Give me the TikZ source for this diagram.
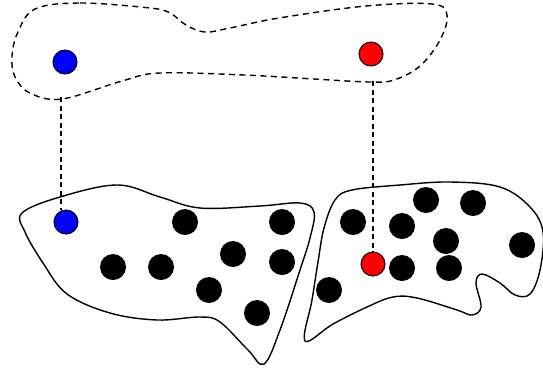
\documentclass[tikz,border=0pt]{standalone}
\begin{document}
\begin{tikzpicture}[x=1pt,y=-1pt,
  blob/.style={line width=1.4pt, line join=round},
  dblob/.style={line width=1.4pt, dash pattern=on 6pt off 4.5pt},
  link/.style={line width=1.3pt, dash pattern=on 5pt off 3.5pt},
  dot/.style={circle, fill=black, inner sep=0pt, minimum size=26pt},
  bdot/.style={circle, draw=black, line width=1pt, fill=blue, inner sep=0pt, minimum size=24pt},
  rdot/.style={circle, draw=black, line width=1pt, fill=red, inner sep=0pt, minimum size=24pt}]
\useasboundingbox (0,0) rectangle (543,376);
% top dashed blob
\draw[dblob] plot[smooth cycle, tension=0.6] coordinates {
 (35,9) (80,3) (150,8) (170,13) (186,25) (205,32) (230,28) (279,18) (366,6) (432,4) (447,15)
 (440,40) (420,66) (394,80) (370,82) (314,79) (244,75) (160,73) (122,81) (62,99)
 (30,93) (15,77) (12,56) (18,32)};
% bottom left blob
\draw[blob] plot[smooth cycle, tension=0.6] coordinates {
 (22,213) (60,197) (117,185) (160,197) (200,208) (260,206) (300,203) (314,212)
 (310,238) (300,270) (280,330) (264,364) (248,350) (220,322) (200,317) (157,320)
 (110,313) (67,294) (43,263) (25,232)};
% bottom right blob
\draw[blob] plot[smooth cycle, tension=0.6] coordinates {
 (305,341) (312,300) (318,262) (324,228) (335,200) (352,190) (400,185) (450,182)
 (500,187) (530,207) (543,232) (540,270) (530,294) (515,295) (500,283) (482,274)
 (476,283) (481,307) (472,315) (457,310) (417,298) (393,297) (367,307) (333,324)};
% top points
\node[bdot] (tb) at (65,62) {};
\node[rdot] (tr) at (371,54) {};
% bottom left points
\node[bdot] (lb) at (66,222) {};
\node[dot] (l1) at (185,222) {};
\node[dot] (l2) at (282,222) {};
\node[dot] (l3) at (113,267) {};
\node[dot] (l4) at (161,267) {};
\node[dot] (l5) at (233,254) {};
\node[dot] (l6) at (282,262) {};
\node[dot] (l7) at (209,290) {};
\node[dot] (l8) at (257,313) {};
% bottom right points
\node[rdot] (rr) at (373,264) {};
\node[dot] (r1) at (353,222) {};
\node[dot] (r2) at (426,200) {};
\node[dot] (r3) at (473,203) {};
\node[dot] (r4) at (402,226) {};
\node[dot] (r5) at (446,241) {};
\node[dot] (r6) at (522,245) {};
\node[dot] (r7) at (402,268) {};
\node[dot] (r8) at (449,268) {};
\node[dot] (r9) at (329,290) {};
% connectors
\coordinate (cb) at (61,97);
\coordinate (cr) at (373,81);
\draw[link] (cb) -- (cb |- lb.north);
\draw[link] (cr) -- (rr.north);
\end{tikzpicture}
\end{document}
